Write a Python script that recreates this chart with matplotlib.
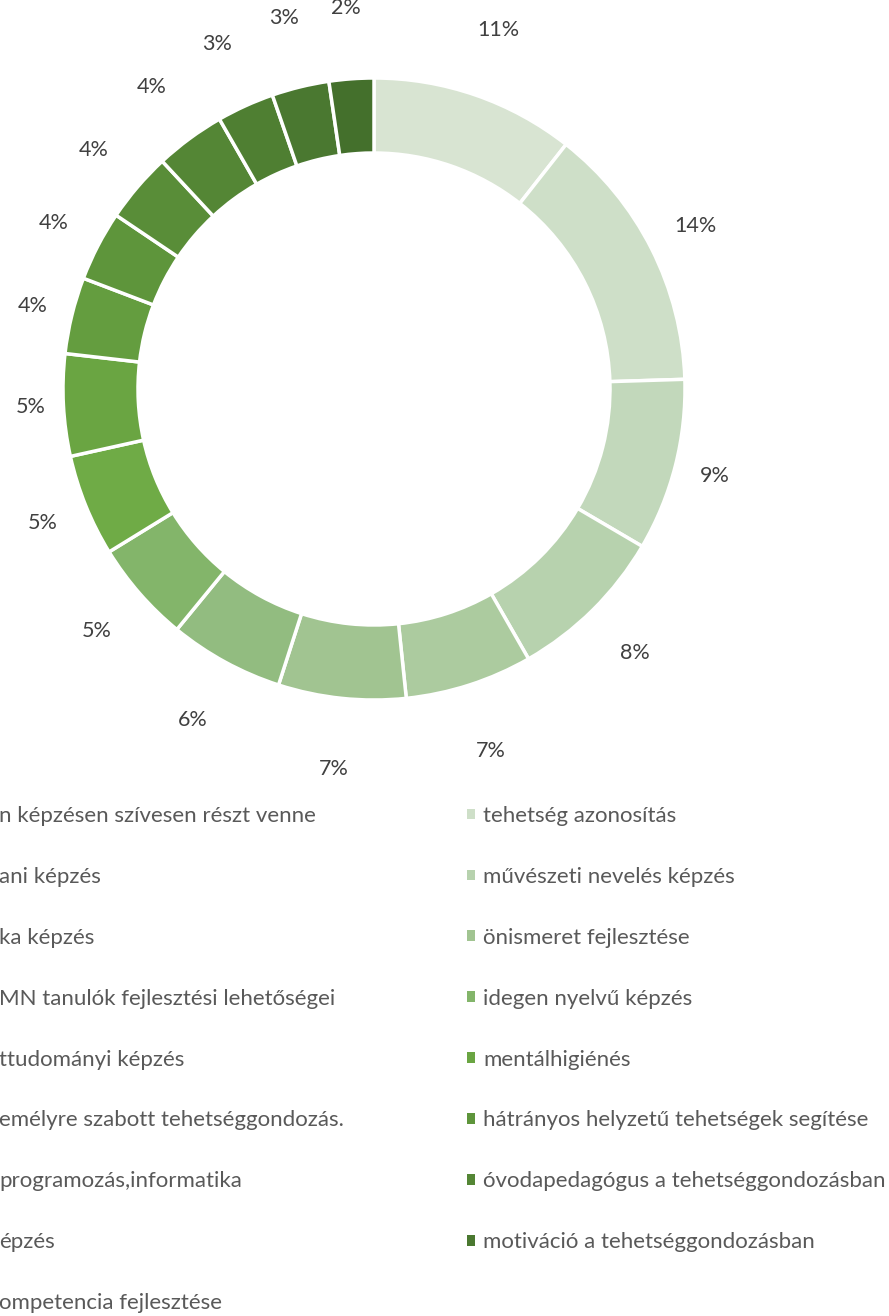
import numpy as np
import matplotlib
matplotlib.use("Agg")
import matplotlib.pyplot as plt
from matplotlib.patches import Patch

plt.rcParams['font.family'] = ['Lato', 'DejaVu Sans']

# answer counts per topic
values = [32, 42, 27, 25, 20, 20, 18, 16, 16, 16, 12, 11, 11, 11, 9, 9, 7]

# legend texts: the left column is cut off at the picture's edge
labels_left = ["n képzésen szívesen részt venne",
               "ani képzés",
               "ka képzés",
               "MN tanulók fejlesztési lehetőségei",
               "ttudományi képzés",
               "emélyre szabott tehetséggondozás.",
               "programozás,informatika",
               "épzés",
               "ompetencia fejlesztése"]
labels_right = ["tehetség azonosítás",
                "művészeti nevelés képzés",
                "önismeret fejlesztése",
                "idegen nyelvű képzés",
                "mentálhigiénés",
                "hátrányos helyzetű tehetségek segítése",
                "óvodapedagógus a tehetséggondozásban",
                "motiváció a tehetséggondozásban"]

colors = ["#D8E4D2", "#CEDFC8", "#C2D8BB", "#B7D2AE", "#ACCB9F", "#A1C491",
          "#92BC80", "#83B56A", "#6FAB46", "#6AA542", "#649D3F", "#5E953B",
          "#598D38", "#548635", "#4F7F32", "#4A7830", "#44702C"]

W, H = 889, 1316
fig = plt.figure(figsize=(W / 100, H / 100), dpi=100)

# donut axes: center (374, 389) px, outer radius 311 px
lim = 1.35
side = 2 * lim * 311
ax = fig.add_axes([(374 - side / 2) / W, (H - 389 - side / 2) / H, side / W, side / H])

wedges, _ = ax.pie(values, colors=colors, startangle=90, counterclock=False,
                   radius=1.0,
                   wedgeprops=dict(width=75 / 311, edgecolor='white', linewidth=2.5))
ax.set_xlim(-lim, lim)
ax.set_ylim(-lim, lim)
ax.set_aspect('equal')
ax.axis('off')

total = sum(values)
for w, v in zip(wedges, values):
    ang = np.deg2rad((w.theta1 + w.theta2) / 2)
    r = 1.10 + 0.13 * abs(np.sin(ang))
    ax.text(r * np.cos(ang), r * np.sin(ang), f"{round(100 * v / total)}%",
            ha='center', va='center', fontsize=15.5, color='#404040')

fs = 16
leg_kw = dict(frameon=False, fontsize=fs, labelcolor='#595959', handlelength=0.36,
              handleheight=0.36, handletextpad=0.36, labelspacing=1.84,
              borderpad=0, borderaxespad=0)

right_handles = [Patch(facecolor=colors[i], edgecolor='none') for i in range(1, 17, 2)]
fig.legend(right_handles, labels_right, loc='upper left',
           bbox_to_anchor=(467 / W, 1 - 806 / H), **leg_kw)

left_handles = [Patch(facecolor=colors[i], edgecolor='none') for i in range(0, 17, 2)]
fig.legend(left_handles, labels_left, loc='upper left',
           bbox_to_anchor=(-17 / W, 1 - 806 / H), **leg_kw)

fig.savefig("out.png", dpi=100)
